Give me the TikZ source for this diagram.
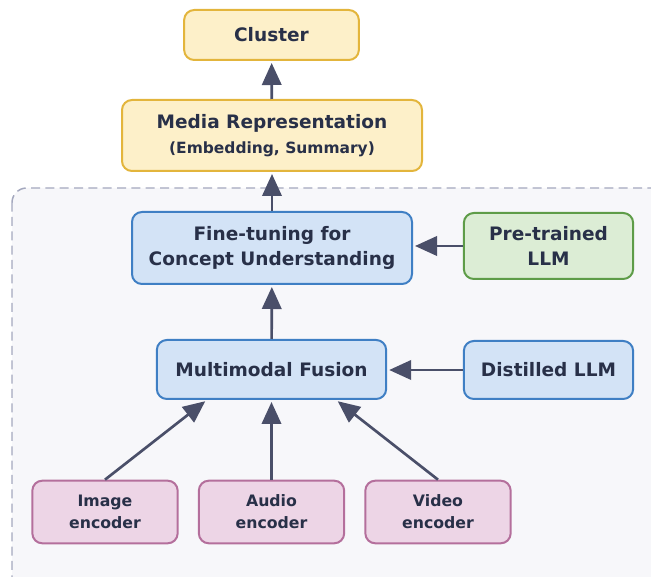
\documentclass[tikz,border=0pt]{standalone}
\usepackage{fontspec}
\setmainfont{DejaVu Sans}
\usetikzlibrary{arrows.meta}

\definecolor{ink}{HTML}{283048}
\definecolor{arrowc}{HTML}{4A4F69}
\definecolor{yfill}{HTML}{FDF0C9}
\definecolor{ydraw}{HTML}{E3B53C}
\definecolor{bfill}{HTML}{D3E3F6}
\definecolor{bdraw}{HTML}{3F7FC4}
\definecolor{gfill}{HTML}{DCEDD5}
\definecolor{gdraw}{HTML}{5E9C48}
\definecolor{pfill}{HTML}{EDD5E6}
\definecolor{pdraw}{HTML}{B46F9C}
\definecolor{panelfill}{HTML}{F7F7FA}
\definecolor{paneldraw}{HTML}{A4A8BE}

\begin{document}
\begin{tikzpicture}[x=0.75pt,y=-0.75pt,
    box/.style={rounded corners=7.5pt,line width=1.5pt,align=center,text=ink,
      font=\fontsize{13.9}{18.75}\selectfont\bfseries,inner sep=0pt},
    yellowbox/.style={box,fill=yfill,draw=ydraw},
    bluebox/.style={box,fill=bfill,draw=bdraw},
    greenbox/.style={box,fill=gfill,draw=gdraw},
    encbox/.style={box,fill=pfill,draw=pdraw,minimum width=109pt,minimum height=47pt,
      font=\fontsize{11.8}{16.5}\selectfont\bfseries},
    arr/.style={draw=arrowc,line width=2pt,-{Triangle[length=16.5pt,width=14.5pt]},
      shorten >=1.5pt}]
  \useasboundingbox (0,0) rectangle (651,577);
  \clip (0,0) rectangle (651,577);
  \draw[fill=panelfill,draw=paneldraw,line width=1.1pt,dash pattern=on 6.75pt off 4pt,
    rounded corners=11pt] (12,188) rectangle (670,600);

  % top of the pipeline
  \node[yellowbox,minimum width=131pt,minimum height=37.5pt] (cluster) at (271.5,35) {Cluster};
  \node[yellowbox,minimum width=225pt,minimum height=53.25pt] (media) at (272,135.5)
    {Media Representation\\[-0.5pt]{\fontsize{11.6}{13}\selectfont(Embedding, Summary)}};

  % fine-tuning stage
  \node[bluebox,minimum width=210pt,minimum height=54pt] (finetune) at (272,248)
    {Fine-tuning for\\Concept Understanding};
  \node[greenbox,minimum width=127pt,minimum height=49.5pt] (pretrained) at (548.5,246)
    {Pre-trained\\LLM};

  % fusion stage
  \node[bluebox,minimum width=172pt,minimum height=44.25pt] (fusion) at (271.5,369.5)
    {Multimodal Fusion};
  \node[bluebox,minimum width=127pt,minimum height=43.5pt] (distilled) at (548.5,370)
    {Distilled LLM};

  % encoders
  \node[encbox] (image) at (105,512) {Image\\encoder};
  \node[encbox] (audio) at (271.5,512) {Audio\\encoder};
  \node[encbox] (video) at (438,512) {Video\\encoder};

  \draw[arr] (media) -- (cluster);
  \draw[arr] (finetune) -- (media);
  \draw[arr] (fusion) -- (finetune);
  \draw[arr] (pretrained.west) -- (pretrained.west -| finetune.east);
  \draw[arr] (distilled.west) -- (distilled.west -| fusion.east);
  \draw[arr] (image.north) -- ([xshift=-48.5pt]fusion.south);
  \draw[arr] (audio.north) -- (fusion.south);
  \draw[arr] (video.north) -- ([xshift=48.5pt]fusion.south);
\end{tikzpicture}
\end{document}
